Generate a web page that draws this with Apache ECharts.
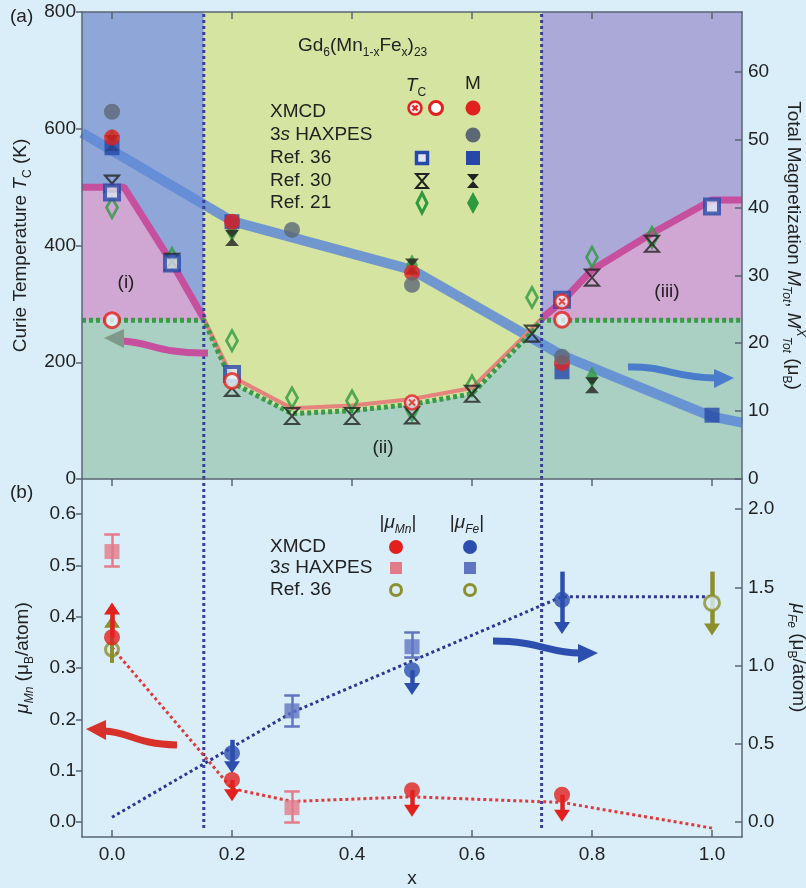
<!DOCTYPE html>
<html><head><meta charset="utf-8">
<script src="https://cdn.jsdelivr.net/npm/echarts@6/dist/echarts.min.js"></script>
<style>html,body{margin:0;padding:0;background:#d9eef9;}#c{width:806px;height:888px;}</style>
</head><body><div id="c"></div>
<script>
// ---------- data ----------
const xTicks = [0, 0.2, 0.4, 0.6, 0.8, 1.0];
const tcTicks = [0, 200, 400, 600, 800];
const mTicks = [0, 10, 20, 30, 40, 50, 60];
const muMnTicks = [0, 0.1, 0.2, 0.3, 0.4, 0.5, 0.6];
const muFeTicks = [0, 0.5, 1.0, 1.5, 2.0];
const phaseX = [-0.05, 0.153, 0.716, 1.05];
const tcMax = 800;

// (a) phase boundary curves, T_C in K
const tcMagentaI = [[-0.05, 500], [0.02, 500], [0.1, 370], [0.153, 275]];
const tcMagentaIII = [[0.716, 275], [0.75, 304], [0.8, 358], [0.9, 421], [1.0, 478], [1.05, 478]];
const tcSalmonII = [[0.153, 275], [0.2, 175], [0.3, 121], [0.4, 126], [0.5, 137], [0.6, 156], [0.7, 258], [0.716, 275]];
const tcGreen = [[-0.05, 272], [0.153, 272], [0.2, 165], [0.3, 112], [0.4, 117], [0.5, 128], [0.6, 146], [0.7, 252], [0.716, 272], [1.05, 272]];
// total magnetization guide line (muB)
const mTotLine = [[-0.05, 51], [0.2, 38], [0.5, 30.8], [0.75, 18.2], [1.0, 9.2], [1.05, 8.3]];

// (a) T_C points (K)
const tcXmcdCross = [[0.5, 131], [0.75, 304]];
const tcXmcdOpen = [[0, 272], [0.2, 168], [0.75, 273]];
const tcRef36 = [[0, 491], [0.1, 369], [0.2, 180], [0.75, 307], [1.0, 467]];
const tcRef30 = [[0, 506], [0.1, 372], [0.2, 156], [0.3, 108], [0.4, 108], [0.5, 109], [0.6, 146], [0.7, 249], [0.8, 345], [0.9, 403]];
const tcRef21 = [[0, 465], [0.1, 378], [0.2, 237], [0.3, 139], [0.4, 134], [0.5, 118], [0.6, 160], [0.7, 311], [0.8, 380], [0.9, 414]];
// (a) M points (muB)
const mXmcd = [[0, 50.3], [0.2, 37.9], [0.5, 30.4], [0.75, 17.1]];
const mHaxpes = [[0, 54.1], [0.3, 36.7], [0.5, 28.6], [0.75, 18.0]];
const mRef36 = [[0, 48.8], [0.2, 37.9], [0.75, 15.8], [1.0, 9.4]];
const mRef30 = [[0, 49.5], [0.2, 35.5], [0.5, 31.3], [0.8, 13.8]];
const mRef21 = [[0, 50.0], [0.2, 36.5], [0.5, 31.5], [0.8, 15.0]];

// (b) guide lines
const mnLine = [[0, 0.34], [0.2, 0.065], [0.3, 0.04], [0.5, 0.049], [0.75, 0.038], [1.0, -0.012]];
const feLine = [[0, 0.03], [0.3, 0.70], [0.75, 1.44], [1.0, 1.44]];
// (b) points: [x, value]
const mnXmcd = [[0, 0.36], [0.2, 0.082], [0.5, 0.062], [0.75, 0.053]];
const mnXmcdArrowTo = [0.416, 0.052, 0.022, 0.012];
const mnHaxpes = [[0, 0.527], [0.3, 0.028]];
const mnHaxpesErr = [[0.498, 0.56], [0.0, 0.059]];
const mnRef36 = [[0, 0.336]];
const mnRef36Stem = [[0.31, 0.39]];
const feXmcd = [[0.2, 0.44], [0.5, 0.97], [0.75, 1.42]];
const feXmcdTop = [0.525, 0.97, 1.60];
const feXmcdArrowTo = [0.35, 0.85, 1.24];
const feHaxpes = [[0.3, 0.71], [0.5, 1.12]];
const feHaxpesErr = [[0.61, 0.81], [1.05, 1.21]];
const feRef36 = [[1.0, 1.40]];
const feRef36Stem = [[1.60, 1.23]];

// ---------- styles ----------
const F = "'Liberation Sans', Arial, sans-serif";
const TXT = '#222';
const AX = '#5a6472';
const C = {
  blueReg: '#8fa6d9', yellowReg: '#d6e4a2', purpleReg: '#aba9d8', pink: '#cfa7d2', green: '#a9d0c2',
  magenta: '#c64f9e', salmon: '#e4847c', greenDot: '#3a9a48', mLine: '#5e8ad6', vDot: '#3a3d9c',
  red: '#e2211f', gray: '#5d6875', blueSq: '#2748a8', black: '#222', greenMk: '#2e9a3e',
  pinkSq: '#e47b88', feSq: '#6174c0', olive: '#8b8f2c', feC: '#2c4eae', mnDot: '#e0393b', feDot: '#2b3792'
};
const HOUR = 'path://M0,0L10,0L0,12L10,12Z';
const XMARK = 'path://M0,0L10,10M10,0L0,10';

const richAxis = {
  n: { fontSize: 19, color: TXT, fontFamily: F, lineHeight: 26 },
  i: { fontSize: 19, color: TXT, fontFamily: F, fontStyle: 'italic', lineHeight: 26 },
  s: { fontSize: 12, color: TXT, fontFamily: F, fontStyle: 'italic', verticalAlign: 'bottom', lineHeight: 14 },
  u: { fontSize: 12, color: TXT, fontFamily: F, verticalAlign: 'bottom', lineHeight: 14 },
  p: { fontSize: 12, color: TXT, fontFamily: F, fontStyle: 'italic', verticalAlign: 'top', lineHeight: 14 }
};
function gRich() {
  const r = {};
  for (const k in richAxis) { r[k] = Object.assign({}, richAxis[k], { fill: TXT }); }
  return r;
}

const lbl = { fontSize: 19, color: TXT, fontFamily: F };
function xAx(grid, pos, opts) {
  return Object.assign({
    type: 'value', gridIndex: grid, position: pos, min: phaseX[0], max: phaseX[3], z: 10,
    splitLine: { show: false },
    axisLine: { show: true, onZero: false, lineStyle: { color: AX, width: 1.5 } },
    axisTick: { show: false },
    axisLabel: { show: false }
  }, opts);
}

const series = [];
function line(data, xi, yi, lineStyle, z, extra) {
  series.push(Object.assign({ type: 'line', data, xAxisIndex: xi, yAxisIndex: yi, symbol: 'none', silent: true,
    lineStyle, z }, extra || {}));
}
function scat(data, xi, yi, symbol, size, itemStyle, z, extra) {
  series.push(Object.assign({ type: 'scatter', data, xAxisIndex: xi, yAxisIndex: yi, symbol, symbolSize: size,
    itemStyle, z, silent: true }, extra || {}));
}
function ml(lines, color, width) {
  return { silent: true, symbol: ['none', 'none'], label: { show: false }, animation: false,
    lineStyle: { color, width, type: 'solid' }, emphasis: { disabled: true }, data: lines };
}
function seg(x, y1, y2) { return [{ coord: [x, y1] }, { coord: [x, y2] }]; }
function arr(x, y1, y2) { return [{ coord: [x, y1] }, { coord: [x, y2], symbol: 'triangle', symbolSize: [16, 12] }]; }
function cap(x, y, w) { return [{ coord: [x - w, y] }, { coord: [x + w, y] }]; }

// ----- panel (a) -----
series.push({ type: 'line', data: [], xAxisIndex: 0, yAxisIndex: 0, z: 0, silent: true,
  markArea: { silent: true, data: [
    [{ xAxis: phaseX[0], yAxis: 0, itemStyle: { color: C.blueReg, opacity: 1 } }, { xAxis: phaseX[1], yAxis: tcMax }],
    [{ xAxis: phaseX[1], yAxis: 0, itemStyle: { color: C.yellowReg, opacity: 1 } }, { xAxis: phaseX[2], yAxis: tcMax }],
    [{ xAxis: phaseX[2], yAxis: 0, itemStyle: { color: C.purpleReg, opacity: 1 } }, { xAxis: phaseX[3], yAxis: tcMax }]
  ] } });
line(tcMagentaI, 0, 0, { width: 0 }, 1, { areaStyle: { color: C.pink, opacity: 1 } });
line(tcMagentaIII, 0, 0, { width: 0 }, 1, { areaStyle: { color: C.pink, opacity: 1 } });
line(tcGreen, 0, 0, { width: 0 }, 1, { areaStyle: { color: C.green, opacity: 1 } });
line(mTotLine, 0, 1, { color: C.mLine, width: 10, opacity: 0.85 }, 2);
line(tcMagentaI, 0, 0, { color: C.magenta, width: 7 }, 3);
line(tcMagentaIII, 0, 0, { color: C.magenta, width: 7 }, 3);
line(tcSalmonII, 0, 0, { color: C.salmon, width: 4 }, 3);
line(tcGreen, 0, 0, { color: C.greenDot, width: 5, type: [4, 3] }, 3);
line([[phaseX[1], 0], [phaseX[1], tcMax]], 0, 0, { color: C.vDot, width: 3, type: [3, 3] }, 4);
line([[phaseX[2], 0], [phaseX[2], tcMax]], 0, 0, { color: C.vDot, width: 3, type: [3, 3] }, 4);

// T_C markers
scat(tcRef21, 0, 0, 'diamond', [11, 20], { color: 'rgba(0,0,0,0)', borderColor: C.greenMk, borderWidth: 3 }, 5);
scat(tcRef30, 0, 0, HOUR, [14, 16], { color: 'rgba(0,0,0,0)', borderColor: C.black, borderWidth: 2 }, 6);
scat(tcRef36, 0, 0, 'rect', 14, { color: '#dfe6f2', borderColor: C.blueSq, borderWidth: 4 }, 7);
scat(tcXmcdCross, 0, 0, 'circle', 14, { color: '#f4e6ec', borderColor: C.red, borderWidth: 2.5 }, 8);
scat(tcXmcdCross, 0, 0, XMARK, 6, { color: 'rgba(0,0,0,0)', borderColor: C.red, borderWidth: 2 }, 9);
scat(tcXmcdOpen, 0, 0, 'circle', 15, { color: '#eef6fb', borderColor: C.red, borderWidth: 3 }, 9);
// M markers
scat(mRef21, 0, 1, 'diamond', [12, 22], { color: C.greenMk }, 5);
scat(mRef30, 0, 1, HOUR, [14, 16], { color: C.black }, 6);
scat(mRef36, 0, 1, 'rect', 15, { color: C.blueSq }, 7);
scat(mXmcd, 0, 1, 'circle', 16, { color: C.red }, 8);
scat(mHaxpes, 0, 1, 'circle', 16, { color: C.gray }, 8);

// ----- panel (b) -----
line([[phaseX[1], -0.012], [phaseX[1], 0.6684]], 2, 2, { color: C.vDot, width: 3, type: [3, 3] }, 2);
line([[phaseX[2], -0.012], [phaseX[2], 0.6684]], 2, 2, { color: C.vDot, width: 3, type: [3, 3] }, 2);
line(mnLine, 2, 2, { color: C.mnDot, width: 3, type: [3, 3] }, 3);
line(feLine, 2, 3, { color: C.feDot, width: 3, type: [3, 3] }, 3);

scat(mnRef36, 2, 2, 'circle', 13, { color: 'rgba(0,0,0,0)', borderColor: C.olive, borderWidth: 3 }, 5,
  { markLine: ml(mnRef36.map((p, k) => arr(p[0], mnRef36Stem[k][0], mnRef36Stem[k][1])), C.olive, 4) });
scat(mnHaxpes, 2, 2, 'rect', 15, { color: C.pinkSq }, 5,
  { markLine: ml([].concat(...mnHaxpes.map((p, k) => [seg(p[0], mnHaxpesErr[k][0], mnHaxpesErr[k][1]),
    cap(p[0], mnHaxpesErr[k][0], 0.013), cap(p[0], mnHaxpesErr[k][1], 0.013)])), C.pinkSq, 2.5) });
scat(mnXmcd, 2, 2, 'circle', 16, { color: C.red }, 6,
  { markLine: ml(mnXmcd.map((p, k) => arr(p[0], p[1], mnXmcdArrowTo[k])), C.red, 4.5) });
scat(feHaxpes, 2, 3, 'rect', 15, { color: C.feSq }, 5,
  { markLine: ml([].concat(...feHaxpes.map((p, k) => [seg(p[0], feHaxpesErr[k][0], feHaxpesErr[k][1]),
    cap(p[0], feHaxpesErr[k][0], 0.013), cap(p[0], feHaxpesErr[k][1], 0.013)])), C.feSq, 2.5) });
scat(feXmcd, 2, 3, 'circle', 16, { color: C.feC }, 6,
  { markLine: ml([].concat(...feXmcd.map((p, k) => [seg(p[0], p[1], feXmcdTop[k]), arr(p[0], p[1], feXmcdArrowTo[k])])), C.feC, 4.5) });
scat(feRef36, 2, 3, 'circle', 15, { color: '#d9eef9', borderColor: C.olive, borderWidth: 3 }, 6,
  { markLine: ml(feRef36.map((p, k) => arr(p[0], feRef36Stem[k][0], feRef36Stem[k][1])), C.olive, 4.5) });

// ---------- annotations (legend, labels, arrows) ----------
const gr = [];
function gtext(x, y, text, align, extra) {
  gr.push({ type: 'text', x, y, z: 100, silent: true, style: Object.assign({ text, fill: TXT, font: '19px ' + F,
    fontSize: 19, fontFamily: F, align: align || 'left', textAlign: align || 'left', verticalAlign: 'middle',
    textVerticalAlign: 'middle', rich: gRich() }, extra || {}) });
}
function gcircle(cx, cy, r, style) { gr.push({ type: 'circle', z: 100, silent: true, shape: { cx, cy, r }, style }); }
function grect(cx, cy, w, h, style) { gr.push({ type: 'rect', z: 100, silent: true, shape: { x: cx - w / 2, y: cy - h / 2, width: w, height: h }, style }); }
function gpoly(points, style) { gr.push({ type: 'polygon', z: 100, silent: true, shape: { points }, style }); }
function hour(cx, cy, style) { gpoly([[cx - 6, cy - 7], [cx + 6, cy - 7], [cx - 6, cy + 7], [cx + 6, cy + 7]], style); }
function diam(cx, cy, w, h, style) { gpoly([[cx, cy - h / 2], [cx + w / 2, cy], [cx, cy + h / 2], [cx - w / 2, cy]], style); }
function arrowG(b, head, color, headColor) {
  gr.push({ type: 'bezierCurve', z: 90, silent: true, shape: b, style: { stroke: color, lineWidth: 7, fill: null } });
  gpoly(head, { fill: headColor || color });
}

gtext(10, 17, '(a)');
gtext(10, 493, '(b)');
gtext(298, 46, '{n|Gd}{u|6}{n|(Mn}{u|1-x}{n|Fe}{u|x}{n|)}{u|23}');
// top legend
const legY = [112, 135, 158, 181, 203];
gtext(270, legY[0], 'XMCD');
gtext(270, legY[1], '{n|3}{i|s}{n| HAXPES}');
gtext(270, legY[2], 'Ref. 36');
gtext(270, legY[3], 'Ref. 30');
gtext(270, legY[4], 'Ref. 21');
gtext(416, 86, '{i|T}{u|C}', 'center');
gtext(473, 84, 'M', 'center');
gcircle(415, legY[0] - 4, 6.5, { fill: '#f4e6ec', stroke: C.red, lineWidth: 2.5 });
gr.push({ type: 'polyline', z: 101, silent: true, shape: { points: [[412.5, legY[0] - 6.5], [417.5, legY[0] - 1.5]] }, style: { stroke: C.red, lineWidth: 2 } });
gr.push({ type: 'polyline', z: 101, silent: true, shape: { points: [[417.5, legY[0] - 6.5], [412.5, legY[0] - 1.5]] }, style: { stroke: C.red, lineWidth: 2 } });
gcircle(436, legY[0] - 4, 6.5, { fill: '#ffffff', stroke: C.red, lineWidth: 3 });
gcircle(473, legY[0] - 4, 7.5, { fill: C.red });
gcircle(473, legY[1], 7.5, { fill: C.gray });
grect(422, legY[2], 11, 11, { fill: '#dfe6f2', stroke: C.blueSq, lineWidth: 3.5 });
grect(473, legY[2], 14, 14, { fill: C.blueSq });
hour(422, legY[3], { fill: 'rgba(0,0,0,0)', stroke: C.black, lineWidth: 2 });
hour(473, legY[3], { fill: C.black });
diam(422, legY[4], 10, 20, { fill: 'rgba(0,0,0,0)', stroke: C.greenMk, lineWidth: 3 });
diam(473, legY[4], 12, 22, { fill: C.greenMk });
gtext(126, 283, '(i)', 'center');
gtext(383, 448, '(ii)', 'center');
gtext(667, 292, '(iii)', 'center');
// bottom legend
const legY2 = [547, 568, 590];
gtext(270, legY2[0], 'XMCD');
gtext(270, legY2[1], '{n|3}{i|s}{n| HAXPES}');
gtext(270, legY2[2], 'Ref. 36');
gtext(398, 523, '{n||}{i|μ}{s|Mn}{n||}', 'center');
gtext(467, 523, '{n||}{i|μ}{s|Fe}{n||}', 'center');
gcircle(396, legY2[0], 7, { fill: C.red });
grect(396, legY2[1], 12, 12, { fill: C.pinkSq });
gcircle(396, legY2[2], 5.5, { fill: 'rgba(0,0,0,0)', stroke: C.olive, lineWidth: 3 });
gcircle(470, legY2[0], 7, { fill: C.feC });
grect(470, legY2[1], 12, 12, { fill: C.feSq });
gcircle(470, legY2[2], 5.5, { fill: 'rgba(0,0,0,0)', stroke: C.olive, lineWidth: 3 });
// curved arrows
arrowG({ x1: 208, y1: 353, cpx1: 160, cpy1: 354, cpx2: 150, cpy2: 342, x2: 122, y2: 341 },
  [[104, 338], [124, 329], [124, 348]], C.magenta, '#7f9a8a');
arrowG({ x1: 628, y1: 367, cpx1: 665, cpy1: 366, cpx2: 675, cpy2: 378, x2: 716, y2: 378 },
  [[734, 378], [714, 369], [714, 388]], '#4a7ccc');
arrowG({ x1: 177, y1: 745, cpx1: 135, cpy1: 744, cpx2: 130, cpy2: 732, x2: 104, y2: 731 },
  [[86, 729], [106, 720], [106, 740]], '#d8302a');
arrowG({ x1: 493, y1: 641, cpx1: 540, cpy1: 641, cpx2: 548, cpy2: 653, x2: 580, y2: 653 },
  [[598, 653], [578, 644], [578, 663]], C.feC);

const fmt1 = v => v.toFixed(1);
const option = {
  animation: false,
  backgroundColor: '#d9eef9',
  grid: [
    { left: 82, right: 64, top: 12, height: 467, containLabel: false, outerBoundsMode: 'none' },
    { left: 82, right: 64, top: 479, height: 358, containLabel: false, outerBoundsMode: 'none' }
  ],
  xAxis: [
    xAx(0, 'bottom', {}),
    xAx(0, 'top', { axisTick: { show: true, inside: true, length: 7, customValues: xTicks, lineStyle: { color: AX, width: 1.5 } } }),
    xAx(1, 'bottom', {
      axisTick: { show: true, inside: true, length: 7, customValues: xTicks, lineStyle: { color: AX, width: 1.5 } },
      axisLabel: Object.assign({ show: true, margin: 8, customValues: xTicks, formatter: fmt1 }, lbl),
      name: 'x', nameLocation: 'middle', nameGap: 32, nameTextStyle: lbl
    }),
    xAx(1, 'top', { axisLine: { show: false, onZero: false },
      axisTick: { show: true, inside: true, length: 7, customValues: xTicks, lineStyle: { color: AX, width: 1.5 } } })
  ],
  yAxis: [
    { type: 'value', gridIndex: 0, position: 'left', min: 0, max: tcMax, z: 10, splitLine: { show: false },
      axisLine: { show: true, onZero: false, lineStyle: { color: AX, width: 1.5 } },
      axisTick: { show: true, inside: false, length: 6, customValues: tcTicks, lineStyle: { color: AX, width: 1.5 } },
      axisLabel: Object.assign({ margin: 6, customValues: tcTicks }, lbl),
      name: '{n|Curie Temperature }{i|T}{u|C}{n| (K)}', nameLocation: 'middle', nameGap: 46, nameRotate: 90,
      nameTextStyle: { rich: richAxis, fontSize: 19, color: TXT, fontFamily: F } },
    { type: 'value', gridIndex: 0, position: 'right', min: 0, max: 68.8, z: 10, splitLine: { show: false },
      axisLine: { show: true, onZero: false, lineStyle: { color: AX, width: 1.5 } },
      axisTick: { show: true, inside: true, length: 7, customValues: mTicks, lineStyle: { color: AX, width: 1.5 } },
      axisLabel: Object.assign({ margin: 6, customValues: mTicks }, lbl),
      name: '{n|Total Magnetization }{i|M}{s|Tot}{n|, }{i|M}{p|X}{s|Tot}{n| (μ}{u|B}{n|)}', nameLocation: 'middle',
      nameGap: 38, nameRotate: -90, nameTextStyle: { rich: richAxis, fontSize: 19, color: TXT, fontFamily: F } },
    { type: 'value', gridIndex: 1, position: 'left', min: -0.0293, max: 0.6684, z: 10, splitLine: { show: false },
      axisLine: { show: true, onZero: false, lineStyle: { color: AX, width: 1.5 } },
      axisTick: { show: true, inside: false, length: 6, customValues: muMnTicks, lineStyle: { color: AX, width: 1.5 } },
      axisLabel: Object.assign({ margin: 6, customValues: muMnTicks, formatter: fmt1 }, lbl),
      name: '{i|μ}{s|Mn}{n| (μ}{u|B}{n|/atom)}', nameLocation: 'middle', nameGap: 46, nameRotate: 90,
      nameTextStyle: { rich: richAxis, fontSize: 19, color: TXT, fontFamily: F } },
    { type: 'value', gridIndex: 1, position: 'right', min: -0.096, max: 2.192, z: 10, splitLine: { show: false },
      axisLine: { show: true, onZero: false, lineStyle: { color: AX, width: 1.5 } },
      axisTick: { show: true, inside: true, length: 7, customValues: muFeTicks, lineStyle: { color: AX, width: 1.5 } },
      axisLabel: Object.assign({ margin: 6, customValues: muFeTicks, formatter: fmt1 }, lbl),
      name: '{i|μ}{s|Fe}{n| (μ}{u|B}{n|/atom)}', nameLocation: 'middle', nameGap: 36, nameRotate: -90,
      nameTextStyle: { rich: richAxis, fontSize: 19, color: TXT, fontFamily: F } }
  ],
  series,
  graphic: gr
};
const chart = echarts.init(document.getElementById('c'));
chart.setOption(option);
</script></body></html>
